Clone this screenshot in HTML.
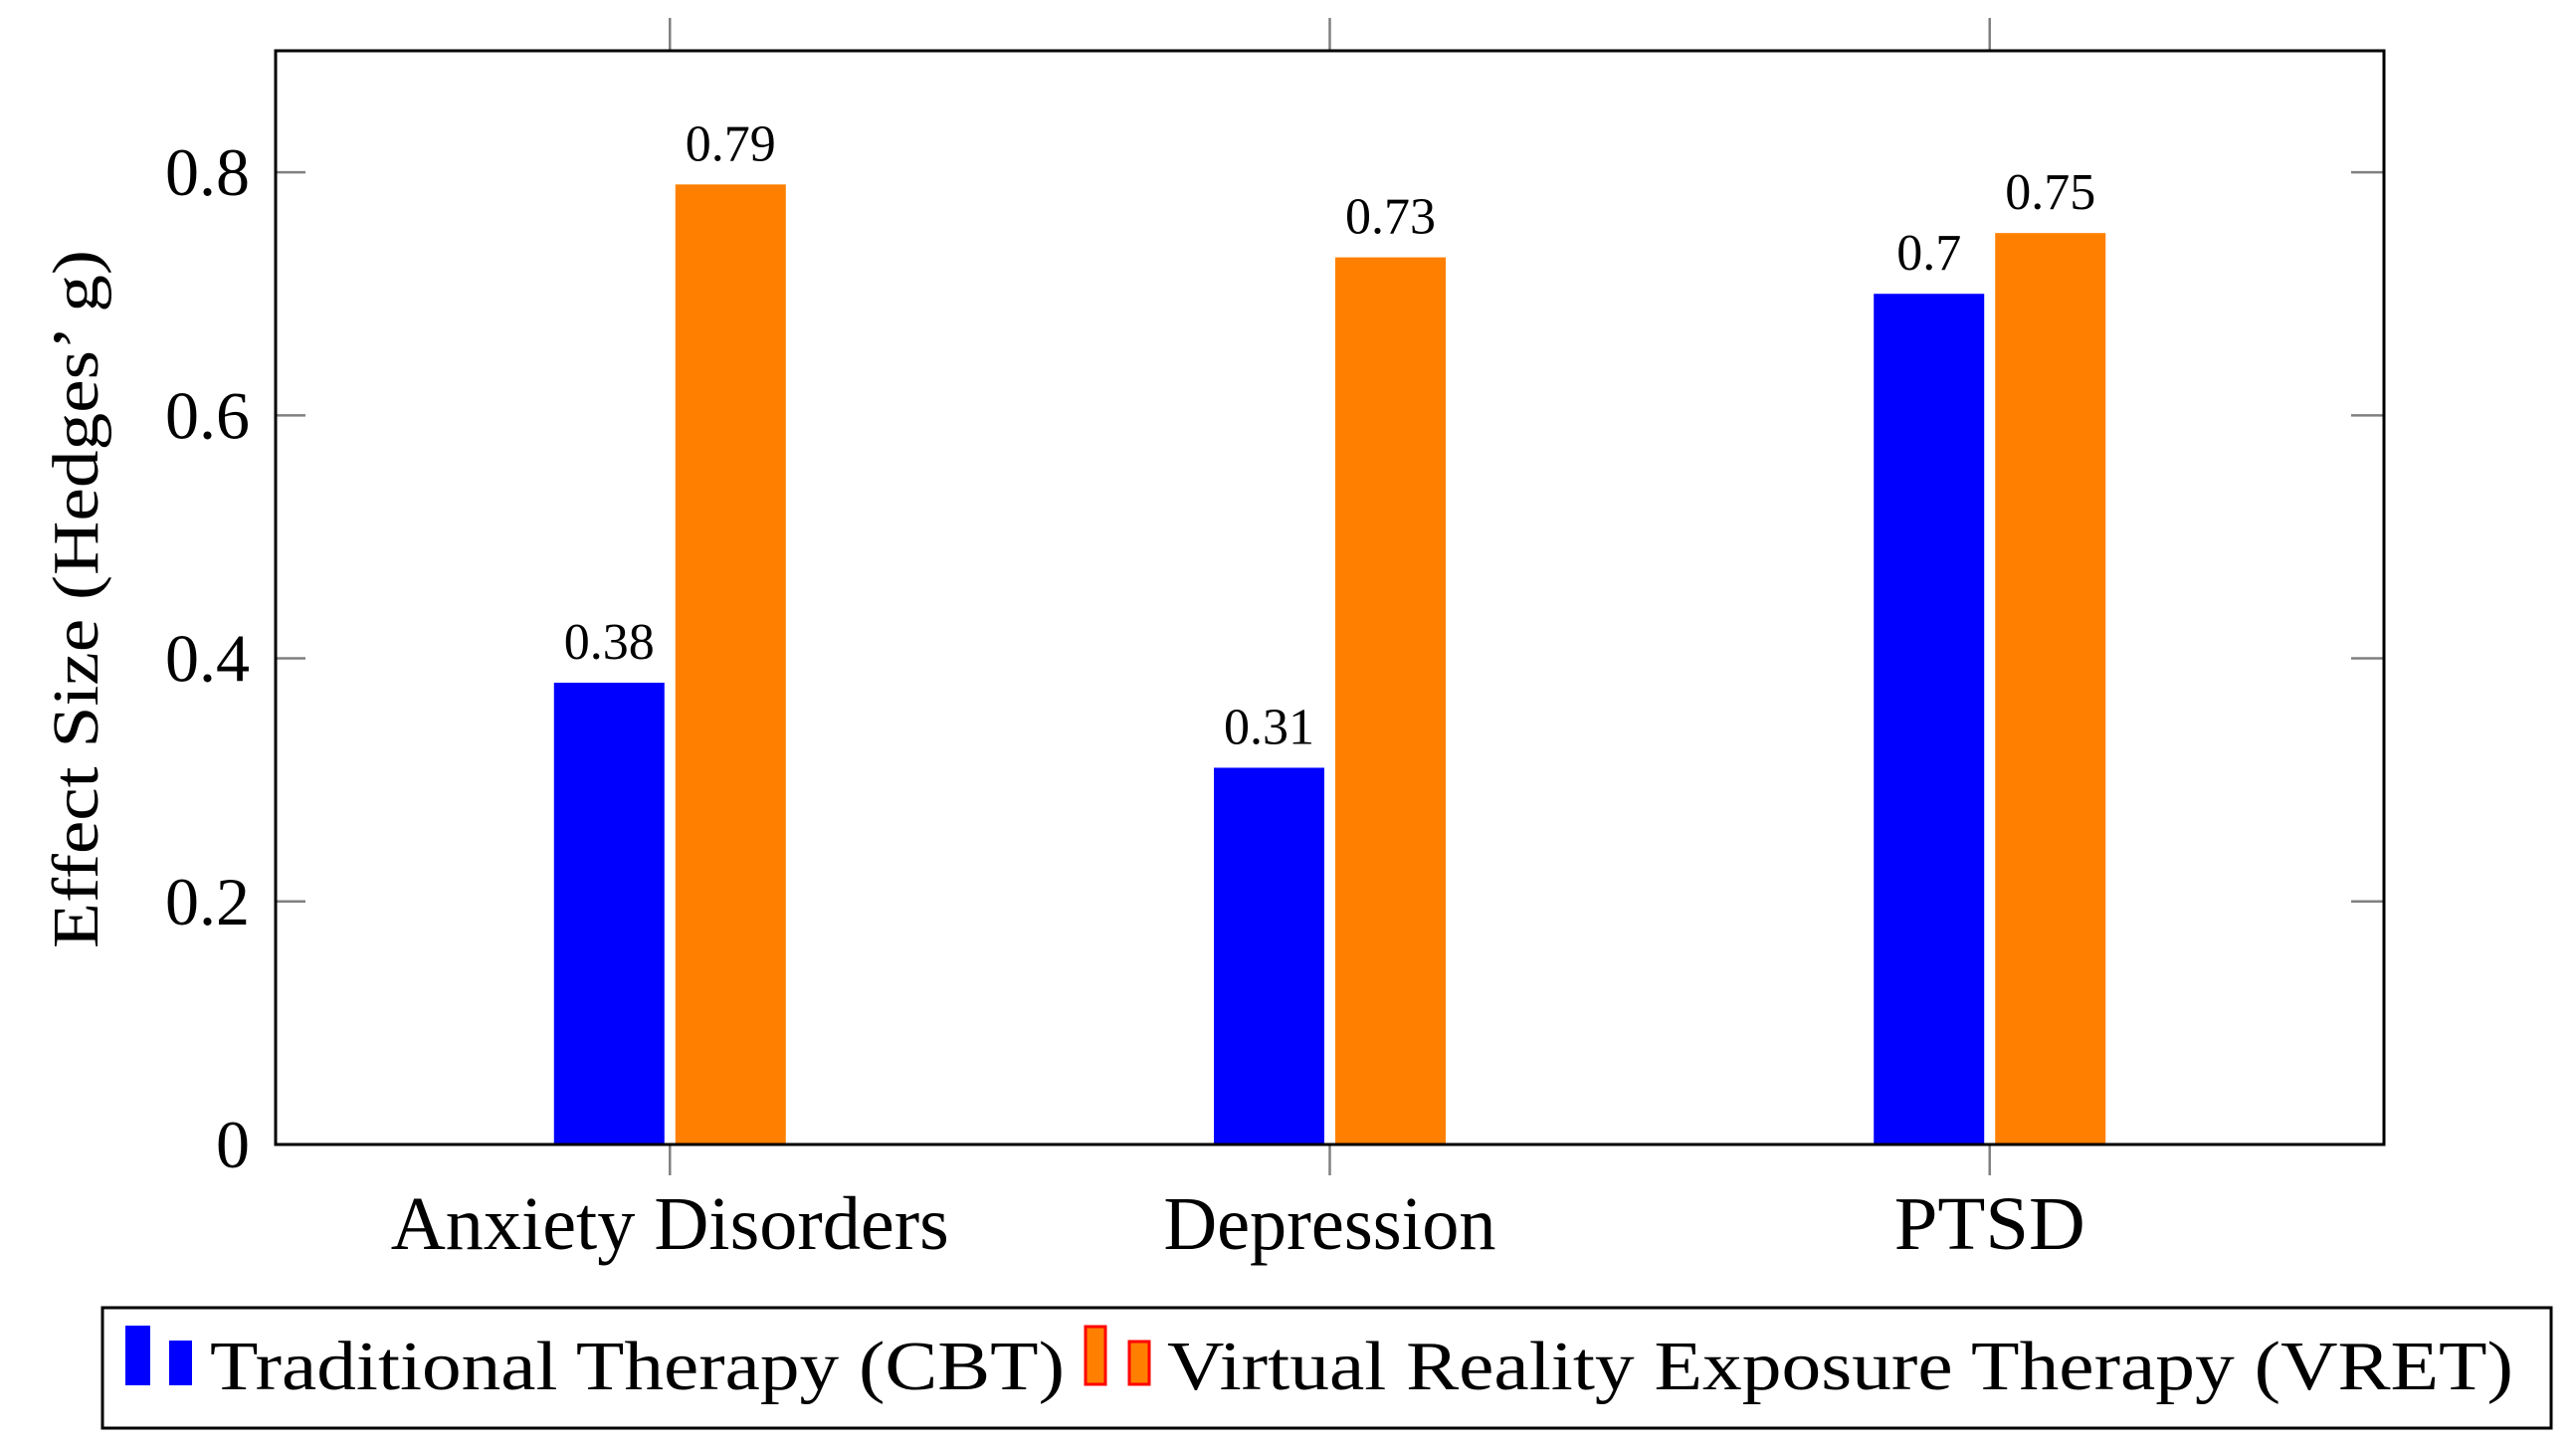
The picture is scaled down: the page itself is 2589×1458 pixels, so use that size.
<!DOCTYPE html>
<html><head><meta charset="utf-8"><style>
html,body{margin:0;padding:0;background:#fff;}
svg{display:block;font-family:"Liberation Serif",serif;}
</style></head><body>
<svg id="chart" width="2589" height="1458" viewBox="0 0 2589 1458" xmlns="http://www.w3.org/2000/svg">
<g id="plot"></g>
<rect x="103" y="1314" width="2461" height="121" fill="none" stroke="#000" stroke-width="3"/>
<rect x="126" y="1332" width="25" height="60" fill="#0000ff"/>
<rect x="170" y="1347" width="23" height="45" fill="#0000ff"/>
<text x="211" y="1396" font-size="70" textLength="859" lengthAdjust="spacingAndGlyphs">Traditional Therapy (CBT)</text>
<rect x="1091" y="1333" width="20" height="58" fill="#ff8000" stroke="#ff0000" stroke-width="3"/>
<rect x="1135" y="1348" width="20" height="43" fill="#ff8000" stroke="#ff0000" stroke-width="3"/>
<text x="1173" y="1396" font-size="70" textLength="1353" lengthAdjust="spacingAndGlyphs">Virtual Reality Exposure Therapy (VRET)</text>
<text transform="translate(98,602) rotate(-90)" text-anchor="middle" font-size="66" textLength="702" lengthAdjust="spacingAndGlyphs">Effect Size (Hedges’ g)</text>
</svg>
<script>
const categories = ["Anxiety Disorders", "Depression", "PTSD"];
const cbtValues = [0.38, 0.31, 0.70];
const vretValues = [0.79, 0.73, 0.75];
const cbtLabels = ["0.38", "0.31", "0.7"];
const vretLabels = ["0.79", "0.73", "0.75"];
const yTicks = [0, 0.2, 0.4, 0.6, 0.8];
const yTickLabels = ["0", "0.2", "0.4", "0.6", "0.8"];

const L = 277, R = 2396, T = 51, B = 1150;
const yMax = 0.9;
const xMin = -0.5975, xMax = 2.5975;
const NS = "http://www.w3.org/2000/svg";
const g = document.getElementById('plot');
function xs(i){ return L + (i - xMin) / (xMax - xMin) * (R - L); }
function ys(v){ return B - v / yMax * (B - T); }
function mk(tag, attrs){ const e = document.createElementNS(NS, tag); for (const k in attrs) e.setAttribute(k, attrs[k]); g.appendChild(e); return e; }
const barW = 111, off = 61;
const labelW = {"Anxiety Disorders":561, "Depression":334, "PTSD":192};

categories.forEach((c, i) => {
  const cx = xs(i);
  const b1 = mk('rect', {x: cx - off - barW/2, y: ys(cbtValues[i]), width: barW, height: B - ys(cbtValues[i]), fill: '#0000ff'});
  
  
  const b2 = mk('rect', {x: cx + off - barW/2, y: ys(vretValues[i]), width: barW, height: B - ys(vretValues[i]), fill: '#ff8000'});
  
  
  const t1 = mk('text', {x: cx - off, y: ys(cbtValues[i]) - 24, 'text-anchor': 'middle', 'font-size': 52});
  t1.textContent = cbtLabels[i];
  
  
  const t2 = mk('text', {x: cx + off, y: ys(vretValues[i]) - 24, 'text-anchor': 'middle', 'font-size': 52});
  t2.textContent = vretLabels[i];
  
  
  const tk1 = mk('line', {x1: cx, x2: cx, y1: 18, y2: T, stroke: '#808080', 'stroke-width': 2.5});
  
  
  const tk2 = mk('line', {x1: cx, x2: cx, y1: B, y2: 1181, stroke: '#808080', 'stroke-width': 2.5});
  
  
  const xl = mk('text', {x: cx, y: 1255, 'text-anchor': 'middle', 'font-size': 76, textLength: labelW[c], lengthAdjust: 'spacingAndGlyphs'});
  xl.textContent = c;
  
  
});

yTicks.forEach((v, i) => {
  const y = ys(v);
  if (v > 0) {
    const a = mk('line', {x1: L, x2: L + 30, y1: y, y2: y, stroke: '#808080', 'stroke-width': 2.5});
    
    
    const b = mk('line', {x1: R - 33, x2: R, y1: y, y2: y, stroke: '#808080', 'stroke-width': 2.5});
    
    
  }
  const t = mk('text', {x: 251, y: y + 23, 'text-anchor': 'end', 'font-size': 68});
  t.textContent = yTickLabels[i];
  
  
});

const frame = mk('rect', {x: L, y: T, width: R - L, height: B - T, fill: 'none', stroke: '#000', 'stroke-width': 3});


</script>
</body></html>
